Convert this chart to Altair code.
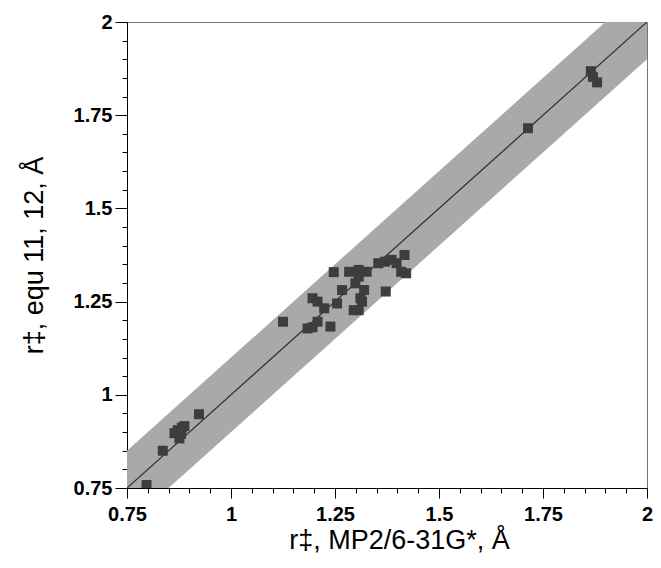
import altair as alt
import pandas as pd

# Data
x_vals = [0.797, 0.836, 0.864, 0.872, 0.876, 0.882, 0.888, 0.880, 0.923,
          1.125, 1.184, 1.196, 1.208, 1.239, 1.196, 1.208, 1.224, 1.255, 1.267,
          1.247, 1.284, 1.307, 1.326, 1.299, 1.307, 1.320, 1.311, 1.315, 1.295,
          1.307, 1.354, 1.370, 1.386, 1.398, 1.417, 1.409, 1.421, 1.372,
          1.714, 1.865, 1.870, 1.880]
y_vals = [0.758, 0.850, 0.897, 0.905, 0.883, 0.912, 0.916, 0.895, 0.948,
          1.196, 1.178, 1.181, 1.196, 1.183, 1.259, 1.250, 1.232, 1.245, 1.281,
          1.329, 1.330, 1.335, 1.330, 1.299, 1.317, 1.281, 1.259, 1.250, 1.227,
          1.227, 1.353, 1.357, 1.362, 1.353, 1.375, 1.330, 1.326, 1.277,
          1.715, 1.868, 1.853, 1.838]

line_x = [0.75, 2.0]
band_x = [0.6, 2.2]
band_halfwidth = 0.1

tick_values = [round(0.75 + 0.05 * i, 2) for i in range(26)]
domain = [0.75, 2.0]

pts = pd.DataFrame({"x": x_vals, "y": y_vals})
line_df = pd.DataFrame({"x": line_x, "y": line_x})
band_df = pd.DataFrame({"x": band_x,
                        "lo": [v - band_halfwidth for v in band_x],
                        "hi": [v + band_halfwidth for v in band_x]})

major = "abs(datum.value*4 - round(datum.value*4)) < 0.001"
label_expr = f"{major} ? format(datum.value, '~g') : ''"

x_axis = alt.Axis(values=tick_values, labelExpr=label_expr, grid=False,
                  tickSize={"condition": {"test": major, "value": 10}, "value": 5},
                  labelFont="Liberation Sans", labelFontWeight="bold", labelFontSize=20,
                  labelColor="black", labelFlush=False, labelOverlap=False, labelPadding=6,
                  labelBound=False,
                  domainColor="black", tickColor="black",
                  title="r\u2021, MP2/6-31G*, \u00c5", titleFont="Liberation Sans",
                  titleFontSize=27, titleFontWeight="normal", titleColor="black",
                  titleBaseline="alphabetic", titleX=272, titleY=60)
y_axis = alt.Axis(values=tick_values, labelExpr=label_expr, grid=False,
                  tickSize={"condition": {"test": major, "value": 12}, "value": 5},
                  labelFont="Liberation Sans", labelFontWeight="bold", labelFontSize=20,
                  labelColor="black", labelFlush=False, labelOverlap=False, labelPadding=3,
                  labelBound=False,
                  domainColor="black", tickColor="black",
                  title="r\u2021, equ 11, 12, \u00c5", titleFont="Liberation Sans",
                  titleFontSize=27, titleFontWeight="normal", titleColor="black",
                  titleBaseline="alphabetic", titleX=-85)

xs = alt.Scale(domain=domain, nice=False, zero=False)
ys = alt.Scale(domain=domain, nice=False, zero=False)

band = alt.Chart(band_df).mark_area(color="#a9a9a9", clip=True, opacity=1).encode(
    x=alt.X("x:Q", scale=xs, axis=x_axis),
    y=alt.Y("lo:Q", scale=ys, axis=y_axis),
    y2="hi:Q",
)
line = alt.Chart(line_df).mark_line(color="#333333", strokeWidth=1.3, clip=True).encode(
    x=alt.X("x:Q", scale=xs, axis=x_axis),
    y=alt.Y("y:Q", scale=ys, axis=y_axis),
)
points = alt.Chart(pts).mark_point(shape="square", filled=True, size=100,
                                   color="#3d3d3d", opacity=1, clip=True).encode(
    x=alt.X("x:Q", scale=xs, axis=x_axis),
    y=alt.Y("y:Q", scale=ys, axis=y_axis),
)

chart = alt.layer(band, line, points).properties(
    width=520, height=466,
    autosize=alt.AutoSizeParams(type="none"),
    padding={"left": 119, "top": 14, "right": 6, "bottom": 66},
    background="white",
).configure_view(stroke="#777777", strokeWidth=1).configure_axis(labelOverlap=False)

chart.save("out.html", embed_options={"renderer": "svg", "actions": False})
